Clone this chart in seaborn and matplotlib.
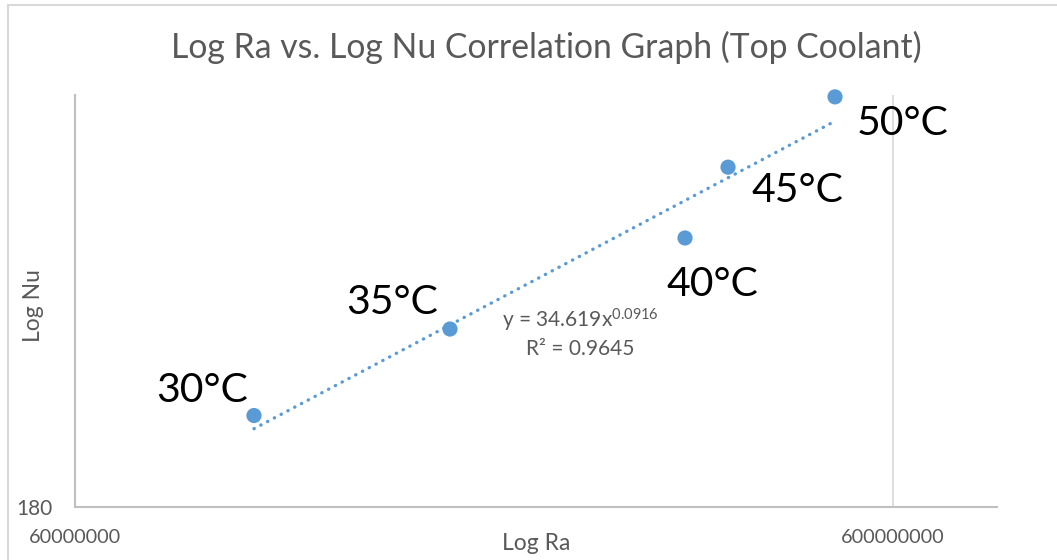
import numpy as np
import pandas as pd
import matplotlib
matplotlib.use("Agg")
import matplotlib.pyplot as plt
from matplotlib.lines import Line2D
from matplotlib.ticker import FixedLocator, NullLocator
import seaborn as sns

# --- data
temps = ["30°C", "35°C", "40°C", "45°C", "50°C"]
log_ra = [9.93e7, 1.724e8, 3.341e8, 3.771e8, 5.096e8]
log_nu = [188.2, 196.3, 205.2, 212.4, 219.8]
fit_coef = 34.619
fit_exp = 0.0916
r_squared = 0.9645

# label offsets (pixels) from each point
label_offsets = [(-52, 25), (-58, 27), (27, -47), (69, -23), (68, -27)]

BLUE = "#5B9BD5"
GREY_TXT = "#595959"

sns.set_theme(style="white")
plt.rcParams["font.family"] = ["Lato", "DejaVu Sans"]
plt.rcParams["mathtext.fontset"] = "custom"
plt.rcParams["mathtext.rm"] = "Lato"

df = pd.DataFrame({"Ra": log_ra, "Nu": log_nu, "T": temps})

fig = plt.figure(figsize=(10.57, 5.6), dpi=100)
ax = fig.add_axes([75 / 1057, 53 / 560, 922 / 1057, 412 / 560])

# trendline from the fitted power law
xs = np.geomspace(min(log_ra), max(log_ra), 200)
trend = pd.DataFrame({"Ra": xs, "Nu": fit_coef * xs ** fit_exp})
sns.lineplot(data=trend, x="Ra", y="Nu", ax=ax, color=BLUE, lw=2.4,
             linestyle=(0, (0.1, 2.2)), dash_capstyle="round", zorder=2)

sns.scatterplot(data=df, x="Ra", y="Nu", ax=ax, color=BLUE, s=120,
                edgecolor="none", zorder=3, clip_on=False)

for (x, y, t), (dx, dy) in zip(zip(log_ra, log_nu, temps), label_offsets):
    ax.annotate(t, (x, y), xytext=(dx, dy), textcoords="offset pixels",
                ha="center", va="center", fontsize=29.5, color="black")

ax.set_xscale("log")
ax.set_yscale("log")
ax.set_xlim(6e7, 8.04e8)
ax.set_ylim(180, 220)

ax.xaxis.set_major_locator(FixedLocator([6e7, 6e8]))
ax.xaxis.set_minor_locator(NullLocator())
ax.set_xticklabels(["60000000", "600000000"])
ax.yaxis.set_major_locator(FixedLocator([180]))
ax.yaxis.set_minor_locator(NullLocator())
ax.set_yticklabels(["180"])
ax.tick_params(axis="x", length=0, pad=16, labelsize=14.3, labelcolor=GREY_TXT)
ax.tick_params(axis="y", length=0, pad=16, labelsize=15, labelcolor=GREY_TXT)

ax.grid(False)
ax.xaxis.grid(True, color="#d9d9d9", lw=1.2)
for side in ["top", "right"]:
    ax.spines[side].set_visible(False)
for side in ["left", "bottom"]:
    ax.spines[side].set_color("#bfbfbf")
    ax.spines[side].set_linewidth(1.5)

ax.set_xlabel("Log Ra", fontsize=16.5, color=GREY_TXT, va="center")
ax.set_ylabel("Log Nu", fontsize=16.5, color=GREY_TXT, va="center")
ax.xaxis.set_label_coords(0.5, -36 / 412)
ax.yaxis.set_label_coords(-42 / 922, 0.49)

ax.text(0.548, 0.454, "y = 34.619x$\\mathregular{^{0.0916}}$", transform=ax.transAxes,
        ha="center", va="center", fontsize=15, color=GREY_TXT)
ax.text(0.548, 0.383, f"R² = {r_squared}", transform=ax.transAxes,
        ha="center", va="center", fontsize=15, color=GREY_TXT)

fig.text(0.517, 0.916, "Log Ra vs. Log Nu Correlation Graph (Top Coolant)",
         ha="center", va="center", fontsize=24.3, color=GREY_TXT)

# chart-area outline (left and top edges visible in the crop)
fig.add_artist(Line2D([8 / 1057, 8 / 1057], [0, 555 / 560], color="#d9d9d9", lw=1.5))
fig.add_artist(Line2D([8 / 1057, 1], [555 / 560, 555 / 560], color="#d9d9d9", lw=1.5))

fig.savefig("out.png", dpi=100)
